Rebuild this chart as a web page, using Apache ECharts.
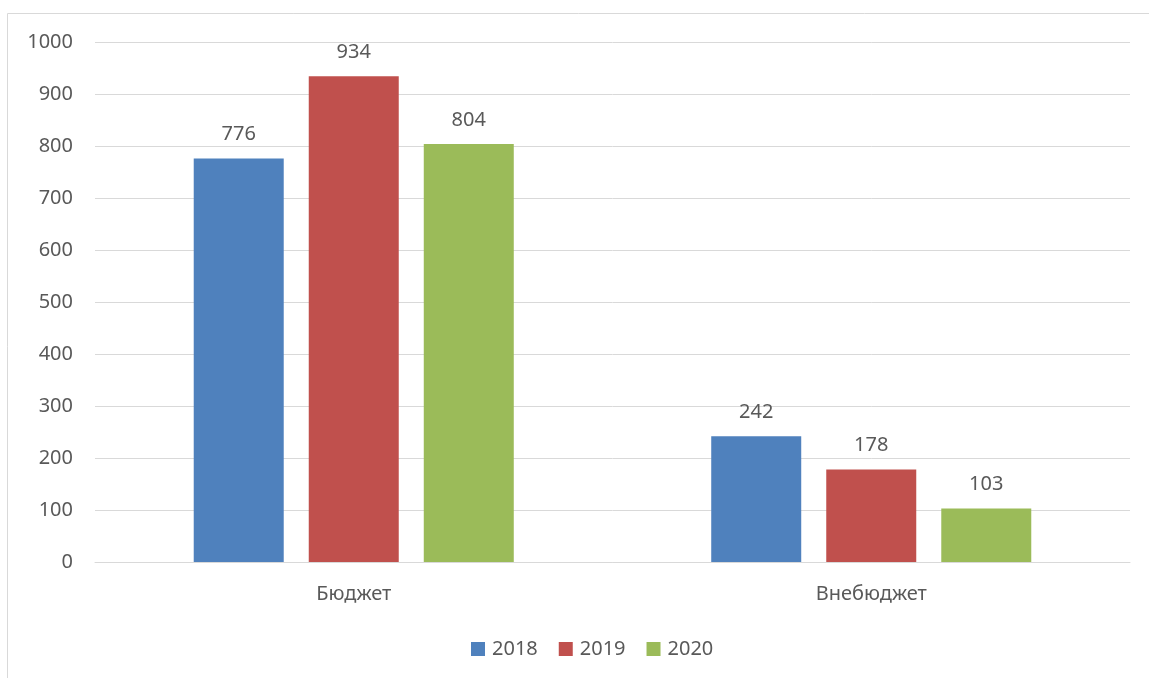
<!DOCTYPE html>
<html>
<head>
<meta charset="utf-8">
<script src="https://cdn.jsdelivr.net/npm/echarts@6/dist/echarts.min.js"></script>
<style>
  html, body { margin: 0; padding: 0; background: #fff; }
  #chart { width: 1149px; height: 678px; }
</style>
</head>
<body>
<div id="chart"></div>
<script>
const categories = ['Бюджет', 'Внебюджет'];
const years = ['2018', '2019', '2020'];
const values2018 = [776, 242];
const values2019 = [934, 178];
const values2020 = [804, 103];
const yTicks = [0, 100, 200, 300, 400, 500, 600, 700, 800, 900, 1000];

const colors = ['#4f81bd', '#c0504d', '#9bbb59'];
const seriesValues = [values2018, values2019, values2020];
const textColor = '#595959';
const fontFamily = '"Noto Sans", sans-serif';

const chart = echarts.init(document.getElementById('chart'), null, { renderer: 'canvas' });

chart.setOption({
  animation: false,
  textStyle: { fontFamily: fontFamily },
  graphic: [{
    type: 'rect',
    shape: { x: 7.5, y: 13.5, width: 1200, height: 700 },
    style: { fill: 'none', stroke: '#d9d9d9', lineWidth: 1 },
    silent: true
  }],
  grid: { left: 95, right: 19, top: 42, bottom: 116 },
  legend: {
    bottom: 14,
    left: 466,
    itemWidth: 14,
    itemHeight: 14,
    itemGap: 21,
    icon: 'rect',
    textStyle: { color: textColor, fontSize: 20, fontFamily: fontFamily, padding: [0, 0, 0, 2] },
    data: years
  },
  xAxis: {
    type: 'category',
    data: categories,
    axisLine: { lineStyle: { color: '#d9d9d9', width: 1 } },
    axisTick: { show: false },
    axisLabel: { color: textColor, fontSize: 20, margin: 22, fontFamily: fontFamily }
  },
  yAxis: {
    type: 'value',
    min: yTicks[0],
    max: yTicks[yTicks.length - 1],
    interval: 100,
    axisLine: { show: false },
    axisTick: { show: false },
    axisLabel: {
      color: textColor, fontSize: 20, margin: 22, fontFamily: fontFamily,
      formatter: v => String(v)
    },
    splitLine: { lineStyle: { color: '#d9d9d9', width: 1 } }
  },
  series: years.map((y, i) => ({
    name: y,
    type: 'bar',
    data: seriesValues[i],
    barWidth: 90,
    barGap: '27.8%',
    itemStyle: { color: colors[i] },
    label: {
      show: true,
      position: 'top',
      distance: 14,
      color: textColor,
      fontSize: 20,
      fontFamily: fontFamily
    }
  }))
});
</script>
</body>
</html>
